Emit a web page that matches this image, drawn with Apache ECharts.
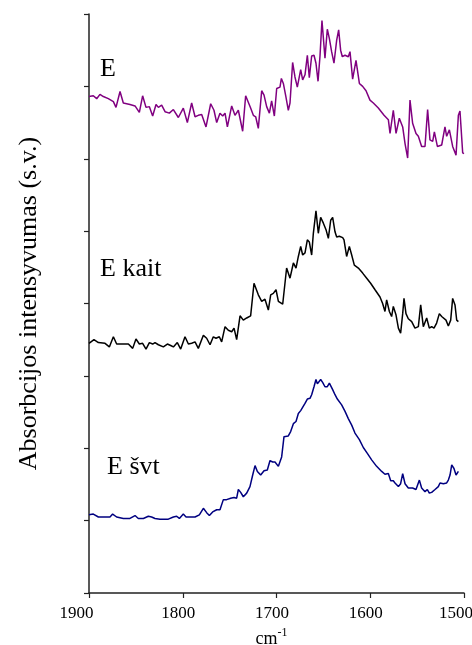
<!DOCTYPE html>
<html>
<head>
<meta charset="utf-8">
<script src="https://cdn.jsdelivr.net/npm/echarts@6/dist/echarts.min.js"></script>
<style>
    html, body { margin: 0; padding: 0; background: #fff; overflow: hidden; }
    #main { width: 472px; height: 645px; }
</style>
</head>
<body>
<div id="main"></div>
<script>
// spektrai: [banginis skaicius cm-1, intensyvumas s.v.]
var xTicks = [1900, 1800, 1700, 1600, 1500];

var spectrumE = [
    [1900,6.86],[1895.4,6.87],[1891.8,6.83],[1888.3,6.89],[1884.7,6.86],[1879.4,6.83],[1874.0,6.79],[1871.2,6.71],
    [1866.9,6.93],[1863.4,6.77],[1856.3,6.75],[1850.9,6.73],[1846.3,6.64],[1842.8,6.87],[1839.2,6.71],[1835.6,6.72],
    [1832.1,6.59],[1828.5,6.75],[1826.0,6.71],[1822.5,6.74],[1818.9,6.65],[1814.3,6.63],[1810.0,6.68],[1804.7,6.57],
    [1799.4,6.70],[1795.1,6.50],[1790.5,6.77],[1786.9,6.58],[1783.4,6.60],[1779.8,6.61],[1775.2,6.44],[1770.2,6.76],
    [1766.7,6.67],[1763.8,6.50],[1760.3,6.63],[1757.4,6.59],[1754.9,6.63],[1752.4,6.44],[1747.8,6.73],[1744.3,6.60],
    [1740.7,6.67],[1736.1,6.38],[1732.9,6.87],[1727.6,6.70],[1724.7,6.60],[1722.2,6.58],[1719.4,6.42],[1715.8,6.94],
    [1713.3,6.88],[1710.5,6.72],[1707.6,6.63],[1705.2,6.80],[1702.3,6.59],[1699.8,6.97],[1696.3,6.99],[1694.8,7.11],
    [1692.7,7.04],[1689.9,6.85],[1687.4,6.67],[1685.6,6.77],[1682.8,7.33],[1680.3,7.13],[1677.8,6.99],[1674.2,7.23],
    [1672.1,7.09],[1669.6,7.16],[1667.1,7.43],[1665.0,7.12],[1662.5,7.42],[1660.0,7.43],[1657.9,7.32],[1655.7,7.07],
    [1653.6,7.42],[1651.5,7.91],[1648.3,7.39],[1645.8,7.79],[1643.6,7.66],[1641.2,7.48],[1638.7,7.32],[1635.8,7.64],
    [1633.7,7.78],[1631.6,7.50],[1629.8,7.41],[1626.9,7.43],[1623.4,7.41],[1621.6,7.48],[1618.8,7.10],[1615.2,7.36],
    [1611.6,7.04],[1608.1,7.00],[1604.5,6.94],[1600.3,6.81],[1596.7,6.77],[1591.4,6.70],[1585.3,6.60],[1580.7,6.54],
    [1578.9,6.35],[1575.4,6.67],[1572.5,6.35],[1569.0,6.56],[1565.4,6.44],[1562.9,6.21],[1560.1,6.01],[1557.6,6.81],
    [1554.8,6.49],[1551.2,6.35],[1548.7,6.31],[1545.2,6.17],[1541.6,6.17],[1538.8,6.68],[1536.3,6.26],[1533.4,6.24],
    [1531.6,6.37],[1528.4,6.17],[1523.8,6.19],[1520.3,6.44],[1518.5,6.31],[1515.6,6.40],[1512.1,6.17],[1508.5,6.05],
    [1506.0,6.60],[1504.3,6.66],[1501.4,6.08],[1500,6.07]
];

var spectrumEKait = [
    [1900,3.45],[1894.7,3.50],[1890.0,3.46],[1882.9,3.45],[1878.3,3.40],[1874.0,3.54],[1870.5,3.44],[1865.2,3.44],
    [1858.0,3.44],[1853.4,3.38],[1849.9,3.51],[1846.3,3.44],[1842.8,3.45],[1839.2,3.37],[1835.6,3.46],[1832.1,3.44],
    [1829.6,3.46],[1826.0,3.43],[1820.7,3.40],[1816.4,3.44],[1812.9,3.42],[1810.0,3.40],[1805.8,3.46],[1802.2,3.37],
    [1797.6,3.54],[1794.0,3.44],[1790.5,3.45],[1786.9,3.47],[1783.4,3.38],[1778.0,3.56],[1774.5,3.52],[1770.9,3.43],
    [1767.4,3.54],[1764.5,3.52],[1761.0,3.54],[1758.5,3.47],[1754.9,3.68],[1751.4,3.63],[1747.8,3.61],[1745.3,3.66],
    [1742.5,3.50],[1738.9,3.83],[1735.4,3.77],[1731.8,3.80],[1727.6,3.83],[1724.0,4.28],[1719.4,4.12],[1715.8,4.03],
    [1712.3,4.06],[1708.7,3.91],[1706.2,4.12],[1703.4,4.14],[1700.5,4.19],[1698.0,4.03],[1696.3,4.03],[1693.4,3.99],
    [1689.2,4.49],[1685.6,4.35],[1682.0,4.56],[1679.2,4.49],[1676.7,4.65],[1674.2,4.79],[1672.1,4.67],[1669.6,4.70],
    [1667.1,4.88],[1665.0,4.85],[1662.5,4.67],[1660.7,4.97],[1657.9,5.28],[1655.4,4.97],[1652.9,5.19],[1650.0,5.11],
    [1647.2,5.02],[1644.7,4.90],[1642.2,5.15],[1640.1,5.19],[1637.6,4.99],[1635.8,4.92],[1633.0,4.93],[1629.4,4.91],
    [1628.0,4.88],[1625.2,4.65],[1622.3,4.79],[1619.8,4.67],[1617.0,4.53],[1612.7,4.49],[1608.1,4.42],[1603.8,4.35],
    [1599.6,4.28],[1594.9,4.19],[1589.6,4.09],[1586.8,4.00],[1584.3,3.89],[1582.5,4.05],[1579.6,3.89],[1577.2,3.82],
    [1575.4,3.96],[1572.5,3.84],[1570.0,3.66],[1567.6,3.59],[1565.4,3.86],[1564.0,4.07],[1561.9,3.86],[1559.4,3.79],
    [1555.8,3.75],[1552.3,3.66],[1548.7,3.68],[1546.2,3.98],[1543.4,3.68],[1539.8,3.80],[1537.0,3.66],[1534.5,3.68],
    [1532.0,3.66],[1529.2,3.73],[1526.3,3.86],[1523.8,3.82],[1522.0,3.84],[1519.2,3.77],[1516.7,3.69],[1514.2,3.77],
    [1512.1,4.07],[1509.6,3.98],[1507.8,3.77],[1506.0,3.75]
];

var spectrumESvt = [
    [1900,1.08],[1895.4,1.09],[1890.0,1.05],[1882.9,1.05],[1877.6,1.05],[1874.8,1.09],[1870.5,1.05],[1863.4,1.03],
    [1856.3,1.03],[1850.9,1.07],[1847.4,1.03],[1842.0,1.03],[1836.7,1.06],[1833.2,1.05],[1829.6,1.03],[1824.3,1.02],
    [1818.9,1.02],[1815.4,1.02],[1810.0,1.05],[1806.5,1.06],[1803.6,1.03],[1799.4,1.09],[1796.5,1.05],[1792.3,1.05],
    [1786.9,1.05],[1782.3,1.08],[1778.0,1.17],[1774.5,1.11],[1771.6,1.07],[1768.1,1.12],[1763.8,1.15],[1760.3,1.15],
    [1756.7,1.29],[1753.2,1.29],[1748.9,1.31],[1745.3,1.32],[1742.5,1.31],[1740.7,1.43],[1738.2,1.39],[1735.4,1.33],
    [1731.8,1.38],[1728.3,1.47],[1725.4,1.63],[1722.9,1.76],[1720.4,1.68],[1716.9,1.63],[1713.3,1.69],[1709.8,1.70],
    [1706.9,1.83],[1704.1,1.81],[1701.6,1.81],[1698.0,1.75],[1694.5,1.88],[1692.0,2.16],[1689.9,2.14],[1687.4,2.17],
    [1684.9,2.23],[1682.0,2.34],[1679.2,2.37],[1676.7,2.48],[1674.2,2.52],[1672.1,2.53],[1669.6,2.62],[1667.1,2.68],
    [1664.3,2.69],[1662.5,2.74],[1660.0,2.85],[1657.9,2.95],[1656.4,2.89],[1654.3,2.89],[1652.9,2.95],[1650.8,2.91],
    [1648.3,2.85],[1645.8,2.85],[1643.6,2.90],[1642.2,2.91],[1640.1,2.81],[1637.6,2.74],[1635.1,2.68],[1630.5,2.60],
    [1626.9,2.51],[1623.4,2.41],[1619.8,2.32],[1616.3,2.21],[1611.6,2.12],[1607.4,2.01],[1603.1,1.93],[1598.5,1.84],
    [1593.2,1.75],[1587.8,1.68],[1584.3,1.64],[1580.7,1.65],[1578.2,1.55],[1575.4,1.55],[1573.6,1.52],[1570.0,1.47],
    [1567.6,1.51],[1565.4,1.65],[1562.9,1.51],[1559.4,1.45],[1554.8,1.45],[1551.2,1.43],[1547.6,1.56],[1545.2,1.45],
    [1541.6,1.40],[1539.1,1.43],[1537.0,1.38],[1534.5,1.39],[1530.9,1.43],[1527.4,1.47],[1525.6,1.52],[1522.0,1.51],
    [1518.5,1.52],[1516.7,1.56],[1514.9,1.63],[1513.1,1.77],[1510.7,1.72],[1508.5,1.63],[1506.0,1.68]
];

var spectrumNames = ['E', 'E kait', 'E švt'];
var spectrumColors = ['#800080', '#000000', '#000080'];

var serif = '"Liberation Serif", "DejaVu Serif", serif';

var myChart = echarts.init(document.getElementById('main'));

function makeSeries(name, data, color) {
    return {
        name: name,
        type: 'line',
        data: data,
        showSymbol: false,
        symbol: 'none',
        animation: false,
        lineStyle: { color: color, width: 1.5 }
    };
}

// kraštinės žymos pastumtos į vidų, kaip originale
function tickLabel(v) {
    if (xTicks.indexOf(v) < 0) return '';
    if (v === 1900) return '{e|' + v + '}';
    if (v === 1500) return '{s|' + v + '}';
    return '{m|' + v + '}';
}

myChart.setOption({
    backgroundColor: '#fff',
    animation: false,
    grid: {
        left: 89,
        right: 8,
        top: 14,
        bottom: 52,
        outerBoundsMode: 'none'
    },
    xAxis: {
        type: 'value',
        min: 1500,
        max: 1900,
        interval: 100,
        inverse: true,
        name: '{a|cm}{b|-1}',
        nameLocation: 'middle',
        nameGap: 31,
        nameTextStyle: {
            rich: {
                a: { fontFamily: serif, fontSize: 18, color: '#000', verticalAlign: 'bottom' },
                b: { fontFamily: serif, fontSize: 12, color: '#000', verticalAlign: 'bottom', padding: [0, 10, 9, 0] }
            }
        },
        axisLine: { lineStyle: { color: '#222', width: 1.5 } },
        axisTick: { show: true, inside: false, length: 5, lineStyle: { color: '#222', width: 1.2 } },
        axisLabel: {
            color: '#000',
            margin: 12,
            formatter: tickLabel,
            rich: {
                e: { fontFamily: serif, fontSize: 17, color: '#000', padding: [0, 25, 0, 0] },
                m: { fontFamily: serif, fontSize: 17, color: '#000', padding: [0, 9, 0, 0] },
                s: { fontFamily: serif, fontSize: 17, color: '#000', padding: [0, 16, 0, 0] }
            }
        },
        splitLine: { show: false }
    },
    yAxis: {
        type: 'value',
        min: 0,
        max: 8,
        interval: 1,
        name: 'Absorbcijos intensyvumas (s.v.)',
        nameLocation: 'middle',
        nameGap: 47,
        nameTextStyle: { fontFamily: serif, fontSize: 26, color: '#000' },
        axisLine: { show: true, lineStyle: { color: '#222', width: 1.5 } },
        axisTick: { show: true, inside: false, length: 5, lineStyle: { color: '#222', width: 1.2 } },
        axisLabel: { show: false },
        splitLine: { show: false }
    },
    graphic: [
        { type: 'text', left: 100, top: 56, style: { text: spectrumNames[0], font: '26px ' + serif, fill: '#000' } },
        { type: 'text', left: 100, top: 256, style: { text: spectrumNames[1], font: '26px ' + serif, fill: '#000' } },
        { type: 'text', left: 107, top: 454, style: { text: spectrumNames[2], font: '26px ' + serif, fill: '#000' } }
    ],
    series: [
        makeSeries(spectrumNames[0], spectrumE, spectrumColors[0]),
        makeSeries(spectrumNames[1], spectrumEKait, spectrumColors[1]),
        makeSeries(spectrumNames[2], spectrumESvt, spectrumColors[2])
    ]
});
</script>
</body>
</html>
